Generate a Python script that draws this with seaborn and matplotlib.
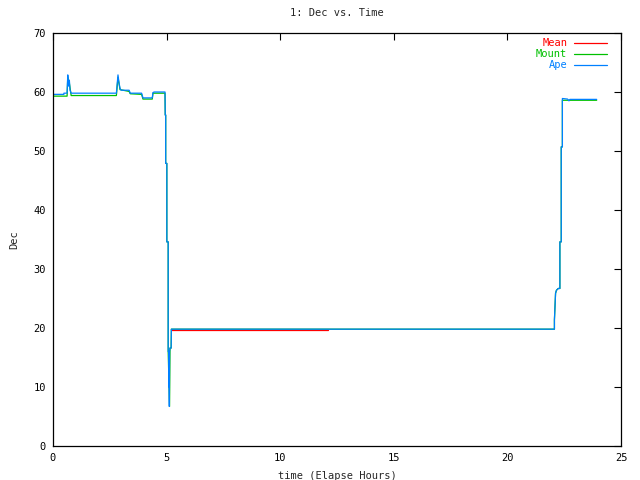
import pandas as pd
import matplotlib
matplotlib.use("Agg")
import matplotlib.pyplot as plt
import seaborn as sns

# Ape (blue) track: elapsed hours / Dec
ape_time = [0.0, 0.48, 0.48, 0.62, 0.65, 0.68, 0.72, 0.75, 0.80, 2.79, 2.86, 2.90,
            2.95, 3.00, 3.35, 3.40, 3.90, 3.96, 4.37, 4.40, 4.45, 4.93, 4.94, 4.96,
            4.96, 5.01, 5.01, 5.07, 5.07, 5.09, 5.10, 5.11, 5.12, 5.13, 5.15, 5.20,
            5.21, 22.07, 22.07, 22.12, 22.16, 22.24, 22.31, 22.31, 22.37, 22.37,
            22.42, 22.42, 22.65, 22.71, 22.75, 23.93]
ape_dec = [59.6, 59.6, 59.8, 59.8, 62.9, 61.0, 62.0, 60.3, 59.8, 59.8, 62.9, 61.7,
           60.6, 60.3, 60.3, 59.8, 59.8, 59.0, 59.0, 59.9, 60.0, 60.0, 56.1, 56.1,
           47.9, 47.9, 34.6, 34.6, 16.0, 16.0, 10.0, 16.0, 6.7, 16.0, 16.6, 16.6,
           19.8, 19.8, 21.4, 25.9, 26.4, 26.7, 26.7, 34.6, 34.6, 50.7,
           50.7, 58.9, 58.8, 58.5, 58.75, 58.75]

# Mount (green) track
mount_time = [0.0, 0.48, 0.62, 0.65, 0.72, 0.80, 2.79, 2.86, 2.95, 3.35, 3.40, 3.90,
              3.96, 4.37, 4.40, 4.93, 4.94, 4.96, 4.96, 5.01, 5.01, 5.07, 5.07, 5.13,
              5.15, 5.20, 5.21, 22.07, 22.07, 22.12, 22.16, 22.24, 22.31, 22.31,
              22.37, 22.37, 22.42, 22.42, 23.93]
mount_dec = [59.3, 59.3, 59.3, 62.6, 61.5, 59.4, 59.4, 62.5, 60.4, 60.1, 59.7, 59.6,
             58.8, 58.8, 59.8, 59.8, 56.1, 56.1, 47.9, 47.9, 34.6, 34.6, 16.0, 6.7,
             16.6, 16.6, 19.8, 19.8, 21.4, 25.9, 26.4, 26.7, 26.7, 34.6,
             34.6, 50.7, 50.7, 58.6, 58.6]

# Mean (red)
mean_time = [5.21, 12.1]
mean_dec = [19.6, 19.6]

series = [("Mean", mean_time, mean_dec, "#ff0000", 1.4),
          ("Mount", mount_time, mount_dec, "#00c000", 0.9),
          ("Ape", ape_time, ape_dec, "#0080ff", 0.9)]

sns.set_theme(style="white")
plt.rcParams["font.family"] = ["DejaVu Sans Mono"]
plt.rcParams["font.size"] = 7.5

fig = plt.figure(figsize=(6.4, 4.8), dpi=100)
ax = fig.add_axes([53 / 640, 1 - 446 / 480, (621 - 53) / 640, (446 - 33) / 480])

for name, t, d, c, lw in series:
    df = pd.DataFrame({"time": t, "dec": d})
    sns.lineplot(data=df, x="time", y="dec", sort=False, estimator=None,
                 color=c, linewidth=lw, label=name, ax=ax)

ax.set_xlim(0, 25)
ax.set_ylim(0, 70)
ax.set_xticks(range(0, 26, 5))
ax.set_yticks(range(0, 71, 10))
ax.tick_params(direction="in", length=5, width=0.8, top=True, right=True,
               labelsize=7.5, colors="black", pad=5)
for s in ax.spines.values():
    s.set_color("black")
    s.set_linewidth(0.9)

ax.set_title("1: Dec vs. Time", fontsize=7.5, pad=12)
ax.set_xlabel("time (Elapse Hours)", fontsize=7.5, labelpad=6)
ax.set_ylabel("Dec", fontsize=7.5, labelpad=10)

handles, labels = ax.get_legend_handles_labels()
for h in handles:
    h.set_linewidth(0.9)
leg = ax.legend(handles, labels, loc="upper right", frameon=False, markerfirst=False,
                labelcolor="linecolor", handlelength=3.2, handletextpad=0.6,
                labelspacing=0.1, fontsize=7.5, borderaxespad=0.0,
                bbox_to_anchor=(1 - 10 / 568, 1 - 1 / 413))

fig.savefig("out.png", dpi=100)
